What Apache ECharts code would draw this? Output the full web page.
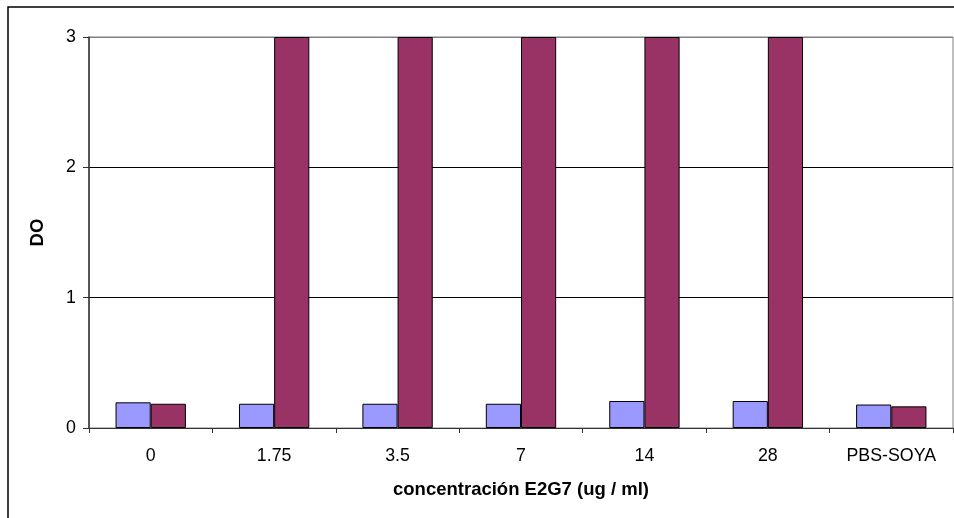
<!DOCTYPE html>
<html>
<head>
<meta charset="utf-8">
<script src="https://cdn.jsdelivr.net/npm/echarts@6/dist/echarts.min.js"></script>
<style>
html,body{margin:0;padding:0;background:#fff;}
#chart{width:954px;height:518px;}
</style>
</head>
<body>
<div id="chart"></div>
<script>
const categories = ['0', '1.75', '3.5', '7', '14', '28', 'PBS-SOYA'];
const seriesA = [0.197, 0.186, 0.186, 0.186, 0.207, 0.207, 0.18];
const seriesB = [0.186, 3, 3, 3, 3, 3, 0.166];
const yTicks = [0, 1, 2, 3];

const chart = echarts.init(document.getElementById('chart'), null, {renderer: 'canvas'});
const font = 'Liberation Sans, Arial, sans-serif';
chart.setOption({
  animation: false,
  backgroundColor: '#fff',
  graphic: [{
    type: 'rect',
    shape: {x: 8, y: 7, width: 1000, height: 600},
    style: {fill: 'none', stroke: '#000', lineWidth: 1.5},
    silent: true
  }],
  grid: {left: 89, right: 1, top: 37, bottom: 90, show: true, borderColor: '#808080', borderWidth: 1},
  xAxis: {
    type: 'category',
    data: categories,
    name: 'concentración E2G7 (ug / ml)',
    nameLocation: 'middle',
    nameGap: 52,
    nameTextStyle: {fontFamily: font, fontSize: 18.5, fontWeight: 'bold', color: '#000'},
    axisLine: {lineStyle: {color: '#333', width: 1}},
    axisTick: {show: true, length: 5, lineStyle: {color: '#333'}},
    axisLabel: {fontFamily: font, fontSize: 17.8, color: '#000', margin: 19}
  },
  yAxis: {
    type: 'value',
    min: yTicks[0],
    max: yTicks[yTicks.length - 1],
    interval: 1,
    name: 'DO',
    nameLocation: 'middle',
    nameGap: 42,
    nameTextStyle: {fontFamily: font, fontSize: 18.5, fontWeight: 'bold', color: '#000'},
    axisLine: {show: true, lineStyle: {color: '#333', width: 1.5}},
    axisTick: {show: true, length: 6, lineStyle: {color: '#333'}},
    axisLabel: {fontFamily: font, fontSize: 17.8, color: '#000', margin: 13},
    splitLine: {show: true, lineStyle: {color: ['#000', '#000', '#000', '#808080'], width: 1}}
  },
  series: [{
    type: 'bar',
    data: seriesA,
    barGap: '0%',
    barCategoryGap: '43%',
    itemStyle: {color: '#9999FF', borderColor: '#000', borderWidth: 1}
  }, {
    type: 'bar',
    data: seriesB,
    barGap: '0%',
    barCategoryGap: '43%',
    itemStyle: {color: '#993366', borderColor: '#000', borderWidth: 1}
  }]
});
</script>
</body>
</html>
